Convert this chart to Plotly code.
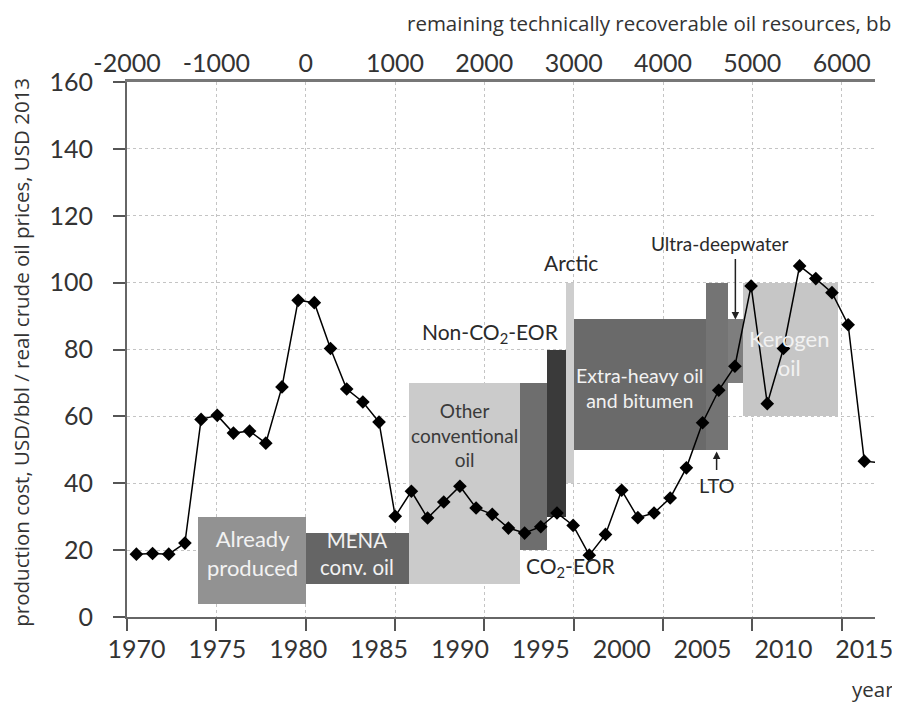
import plotly.graph_objects as go

# ---------------- data ----------------
years = list(range(1970, 2017))
oil_price = [18.8, 19.0, 18.8, 22.1, 59.1, 60.3, 55.0, 55.6, 52.0, 68.8,
             94.7, 94.0, 80.3, 68.2, 64.3, 58.3, 30.1, 37.6, 29.6, 34.4,
             39.1, 32.6, 30.7, 26.6, 25.1, 27.0, 31.1, 27.4, 18.5, 24.7,
             37.9, 29.7, 31.1, 35.6, 44.6, 58.1, 67.8, 75.0, 99.0, 63.8,
             80.3, 105.0, 101.2, 97.0, 87.4, 46.6, 46.1]

res_names = ["Already produced", "MENA conv. oil", "Other conventional oil",
             "CO2-EOR", "Non-CO2-EOR", "Arctic", "Extra-heavy oil and bitumen",
             "LTO", "Ultra-deepwater", "Kerogen oil"]
res_start = [-1200, 0, 1160, 2400, 2700, 2910, 3000, 4480, 4730, 4900]
res_end = [0, 1160, 2400, 2700, 2910, 3000, 4480, 4730, 4900, 5960]
cost_low = [4, 10, 10, 20, 30, 40, 50, 50, 70, 60]
cost_high = [30, 25, 70, 70, 80, 100, 89, 100, 89, 100]

res_ticks = [-2000, -1000, 0, 1000, 2000, 3000, 4000, 5000, 6000]
year_ticks = [1970, 1975, 1980, 1985, 1990, 1995, 2000, 2005, 2010, 2015]
cost_ticks = [0, 20, 40, 60, 80, 100, 120, 140, 160]

# ---------------- styles ----------------
res_colors = ["#929292", "#656565", "#cbcbcb", "#6e6e6e", "#3a3a3a",
              "#cecece", "#6a6a6a", "#747474", "#7e7e7e", "#c6c6c6"]
TICKFONT = dict(family="Lato", size=25, color="#333333")
TITLEFONT = dict(family="Open Sans", size=20.5, color="#333333")
GRID = "#c4c4c4"

fig = go.Figure()

fig.add_trace(go.Bar(
    x=[(a + b) / 2 for a, b in zip(res_start, res_end)],
    width=[b - a for a, b in zip(res_start, res_end)],
    base=cost_low,
    y=[h - l for l, h in zip(cost_low, cost_high)],
    marker=dict(color=res_colors, line=dict(width=0)),
    hovertext=res_names, hoverinfo="text",
    xaxis="x", yaxis="y", showlegend=False,
))

# invisible trace so that the top (resources) axis is drawn
fig.add_trace(go.Scatter(
    x=res_ticks, y=[None] * len(res_ticks), mode="markers",
    marker=dict(opacity=0), hoverinfo="skip",
    xaxis="x2", yaxis="y", showlegend=False,
))

fig.add_trace(go.Scatter(
    x=years, y=oil_price, mode="lines+markers",
    line=dict(color="black", width=1.5),
    marker=dict(symbol="diamond", size=10.5, color="black"),
    xaxis="x3", yaxis="y", cliponaxis=False, showlegend=False,
))

res_range = [-2000, 6373]
year_range = [1969.42, 2015.66]

fig.update_layout(
    width=892, height=694,
    margin=dict(l=119, r=25, t=74, b=85),
    plot_bgcolor="white", paper_bgcolor="white",
    barmode="overlay", bargap=0,
    xaxis=dict(range=res_range, side="bottom", tickvals=res_ticks,
               showticklabels=False, ticks="outside", ticklen=12,
               tickcolor="#555555", tickwidth=1.5, automargin=False,
               showgrid=True, gridcolor=GRID, griddash="3px,3px", gridwidth=1,
               showline=True, linecolor="#666666", linewidth=2,
               zeroline=False),
    xaxis2=dict(range=res_range, overlaying="x", side="top",
                tickvals=res_ticks, ticktext=[str(v) for v in res_ticks],
                tickfont=TICKFONT, ticks="", ticklabelstandoff=-3,
                automargin=False,
                showgrid=False, showline=True, linecolor="#777777",
                linewidth=2.5, zeroline=False),
    xaxis3=dict(range=year_range, overlaying="x", side="bottom",
                tickvals=year_ticks, ticktext=[str(v) for v in year_ticks],
                tickfont=TICKFONT, ticks="outside", ticklen=10,
                tickcolor="rgba(0,0,0,0)", automargin=False,
                showgrid=False, showline=False, zeroline=False),
    yaxis=dict(range=[0, 160], tickvals=cost_ticks, tickfont=TICKFONT,
               ticks="outside", ticklen=12, tickcolor="#555555", tickwidth=1.5,
               ticklabelstandoff=15, automargin=False,
               showgrid=True, gridcolor=GRID, griddash="3px,3px", gridwidth=1,
               showline=True, linecolor="#666666", linewidth=2,
               zeroline=False),
)

LIGHT = "#f2f2f2"
DARK = "#2a2a2a"
ann = [
    dict(x=-600, y=19, text="Already<br>produced", font=dict(family="Lato", size=22, color=LIGHT)),
    dict(x=580, y=19, text="MENA<br>conv. oil", font=dict(family="Lato", size=20.5, color=LIGHT)),
    dict(x=1780, y=54.5, text="Other<br>conventional<br>oil", font=dict(family="Lato", size=19, color="#3a3a3a")),
    dict(x=2860, y=85, text="Non-CO<sub>2</sub>-EOR", xanchor="right", font=dict(family="Lato", size=21, color=DARK)),
    dict(x=2970, y=15, text="CO<sub>2</sub>-EOR", font=dict(family="Lato", size=21, color=DARK)),
    dict(x=2970, y=106, text="Arctic", font=dict(family="Lato", size=21, color=DARK)),
    dict(x=3740, y=68.4, text="Extra-heavy oil<br>and bitumen", font=dict(family="Lato", size=19.5, color=LIGHT)),
    dict(x=4640, y=111.7, text="Ultra-deepwater", font=dict(family="Lato", size=19, color=DARK)),
    dict(x=4600, y=39.4, text="LTO", font=dict(family="Lato", size=20, color=DARK)),
    dict(x=5420, y=79, text="Kerogen<br>oil", font=dict(family="Lato", size=22, color="#f2f2f2")),
]
annotations = []
for a in ann:
    d = dict(xref="x", yref="y", showarrow=False, align="center")
    d.update(a)
    annotations.append(d)

# arrows
annotations.append(dict(xref="x", yref="y", x=4810, y=89, text="", showarrow=True,
                        ax=0, ay=-62, arrowhead=2, arrowsize=1, arrowwidth=1.5,
                        arrowcolor="#222222"))
annotations.append(dict(xref="x", yref="y", x=4600, y=49.5, text="", showarrow=True,
                        ax=0, ay=20, arrowhead=2, arrowsize=1, arrowwidth=1.5,
                        arrowcolor="#222222"))

# axis titles
annotations.append(dict(xref="paper", yref="paper", x=1.024, y=1.11, xanchor="right",
                        yanchor="middle", showarrow=False,
                        text="remaining technically recoverable oil resources, bb",
                        font=TITLEFONT))
annotations.append(dict(xref="paper", yref="paper", x=1.028, y=-0.135, xanchor="right",
                        yanchor="middle", showarrow=False, text="year", font=TITLEFONT))
annotations.append(dict(xref="paper", yref="paper", x=-0.141, y=0.495, xanchor="center",
                        yanchor="middle", showarrow=False, textangle=-90,
                        text="production cost, USD/bbl / real crude oil prices, USD 2013",
                        font=TITLEFONT))

fig.update_layout(annotations=annotations)

fig.write_html("out.html")
